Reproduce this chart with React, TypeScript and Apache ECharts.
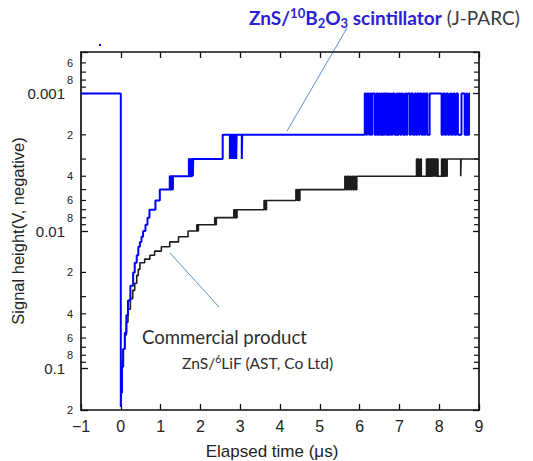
import React, { useEffect, useRef } from 'react';
import * as echarts from 'echarts';

// ---------- data ----------
const xMin = -1;
const xMax = 9;
const yMin = 0.0005;
const yMax = 0.2;

const yMajorTicks = [0.001, 0.01, 0.1];
const yMinorTickValues = [
  0.0006, 0.0007, 0.0008, 0.0009,
  0.002, 0.003, 0.004, 0.005, 0.006, 0.007, 0.008, 0.009,
  0.02, 0.03, 0.04, 0.05, 0.06, 0.07, 0.08, 0.09,
];
const yMinorLabelValues = [0.0006, 0.0008, 0.002, 0.004, 0.006, 0.008, 0.02, 0.04, 0.06, 0.08, 0.2];
const yMinorLabelTexts = ['6', '8', '2', '4', '6', '8', '2', '4', '6', '8', '2'];

// ZnS/10B2O3 (J-PARC) : [time µs, signal V] held until next point
const blueSignal: [number, number][] = [
  [-1, 0.001], [0, 0.19], [0.01, 0.15], [0.03, 0.097], [0.06, 0.072], [0.10, 0.055],
  [0.14, 0.041], [0.18, 0.032], [0.24, 0.025], [0.31, 0.020], [0.35, 0.017], [0.40, 0.015],
  [0.44, 0.013], [0.48, 0.012], [0.52, 0.011], [0.56, 0.010], [0.62, 0.009], [0.67, 0.008],
  [0.72, 0.007], [0.87, 0.006], [0.98, 0.005],
  [1.23, 0.004], [1.25, 0.005], [1.27, 0.004], [1.29, 0.005], [1.31, 0.004],
  [1.71, 0.003], [1.73, 0.004], [1.75, 0.003], [1.77, 0.004], [1.79, 0.003], [1.81, 0.004], [1.82, 0.003],
  [2.56, 0.002], [2.74, 0.003], [2.75, 0.002], [2.78, 0.003], [2.79, 0.002], [2.82, 0.003], [2.83, 0.002],
  [2.86, 0.003], [2.87, 0.002], [2.90, 0.003], [2.91, 0.002], [3.04, 0.003], [3.05, 0.002],
  [6.13, 0.001], [6.16, 0.002], [6.19, 0.001], [6.24, 0.002], [6.27, 0.001], [6.30, 0.002], [6.32, 0.001],
  [6.38, 0.002], [6.42, 0.001], [6.45, 0.002], [6.48, 0.001], [6.51, 0.002], [6.55, 0.001], [6.57, 0.002],
  [6.60, 0.001], [6.63, 0.002], [6.65, 0.001], [6.68, 0.002], [6.70, 0.001], [6.72, 0.002], [6.76, 0.001],
  [6.79, 0.002], [6.83, 0.001], [6.88, 0.002], [6.93, 0.001], [6.95, 0.002], [6.98, 0.001], [7.02, 0.002],
  [7.05, 0.001], [7.09, 0.002], [7.14, 0.001], [7.17, 0.002], [7.20, 0.001], [7.26, 0.002], [7.29, 0.001],
  [7.34, 0.002], [7.39, 0.001], [7.42, 0.002], [7.45, 0.001], [7.49, 0.002], [7.51, 0.001], [7.56, 0.002],
  [7.60, 0.001], [7.63, 0.002], [7.66, 0.001], [7.70, 0.002], [7.76, 0.001],
  [8.06, 0.002], [8.10, 0.001], [8.14, 0.002], [8.18, 0.001], [8.22, 0.002], [8.27, 0.001], [8.31, 0.002],
  [8.35, 0.001], [8.39, 0.002], [8.43, 0.001], [8.47, 0.002], [8.56, 0.001], [8.64, 0.002], [8.68, 0.001],
  [8.70, 0.002], [8.75, 0.001], [8.77, 0.001],
];

// Commercial ZnS/6LiF (AST)
const blackSignal: [number, number][] = [
  [0.01, 0.11], [0.03, 0.088], [0.06, 0.072], [0.10, 0.057], [0.14, 0.046], [0.18, 0.037],
  [0.24, 0.031], [0.30, 0.027], [0.35, 0.024], [0.40, 0.021], [0.44, 0.019], [0.48, 0.017],
  [0.60, 0.016], [0.73, 0.015], [0.85, 0.014], [1.02, 0.013], [1.23, 0.012], [1.45, 0.011],
  [1.69, 0.010], [1.91, 0.009], [1.93, 0.010], [1.95, 0.009],
  [2.36, 0.008], [2.38, 0.009], [2.40, 0.008],
  [2.84, 0.007], [2.86, 0.008], [2.88, 0.007], [2.90, 0.008], [2.92, 0.007],
  [3.60, 0.006], [3.63, 0.007], [3.66, 0.006],
  [4.40, 0.005], [4.43, 0.006], [4.46, 0.005], [4.48, 0.006], [4.50, 0.005],
  [5.63, 0.004], [5.66, 0.005], [5.69, 0.004], [5.72, 0.005], [5.75, 0.004], [5.78, 0.005],
  [5.81, 0.004], [5.84, 0.005], [5.87, 0.004], [5.90, 0.005], [5.93, 0.004],
  [7.43, 0.003], [7.45, 0.004], [7.47, 0.003], [7.49, 0.004], [7.53, 0.003], [7.55, 0.004],
  [7.68, 0.003], [7.70, 0.004], [7.72, 0.003], [7.74, 0.004], [7.76, 0.003], [7.78, 0.004],
  [7.80, 0.003], [7.82, 0.004], [7.84, 0.003], [7.88, 0.004], [7.90, 0.003], [7.93, 0.004],
  [7.95, 0.003], [7.97, 0.004], [8.06, 0.003], [8.08, 0.004], [8.10, 0.003], [8.12, 0.004],
  [8.14, 0.003], [8.17, 0.004], [8.20, 0.003], [8.54, 0.004], [8.55, 0.003], [9.0, 0.003],
];

// ---------- styles ----------
const AXIS = '#111';
const TICKFONT = 'Liberation Sans';
const NOTEFONT = 'Lato';

const isPow10 = (v: number) => {
  const l = Math.log10(v);
  return Math.abs(l - Math.round(l)) < 1e-6;
};

const commonAxisLine = { show: true, onZero: false, lineStyle: { color: AXIS, width: 1.7 } };

const option: any = {
  animation: false,
  backgroundColor: '#fff',
  grid: { left: 81, right: 54, top: 52, bottom: 51, containLabel: false, outerBoundsMode: 'none' },
  xAxis: [
    {
      type: 'value', min: xMin, max: xMax, interval: 1, position: 'bottom',
      axisLine: commonAxisLine,
      axisTick: { inside: true, length: 6, lineStyle: { color: AXIS, width: 1.3 } },
      axisLabel: {
        fontSize: 16, color: '#222', margin: 8, fontFamily: TICKFONT,
        formatter: (v: number) => (v < 0 ? '\u2212' + Math.abs(v) : String(v)),
      },
      splitLine: { show: false },
      name: 'Elapsed time (\u03bcs)', nameLocation: 'middle', nameGap: 33, nameMoveOverlap: false,
      nameTextStyle: { fontSize: 17, color: '#222', fontFamily: TICKFONT, padding: [0, 16, 0, 0] },
    },
    {
      type: 'value', min: xMin, max: xMax, interval: 1, position: 'top',
      axisLine: commonAxisLine,
      axisTick: { inside: true, length: 6, lineStyle: { color: AXIS, width: 1.3 } },
      axisLabel: { show: false }, splitLine: { show: false },
    },
  ],
  yAxis: [
    {
      type: 'log', logBase: 10, min: yMin, max: yMax, inverse: true, position: 'left',
      axisLine: commonAxisLine,
      axisTick: { inside: true, length: 7, lineStyle: { color: AXIS, width: 1.3 } },
      axisLabel: {
        fontSize: 15, color: '#222', margin: 16, fontFamily: TICKFONT,
        formatter: (v: number) => {
          if (!isPow10(v)) return '';
          const m = yMajorTicks.find((t) => Math.abs(t - v) / t < 1e-6);
          return m === undefined ? '' : String(m);
        },
      },
      splitLine: { show: false },
      name: 'Signal height(V, negative)', nameLocation: 'middle', nameGap: 55, nameRotate: 90,
      nameMoveOverlap: false,
      nameTextStyle: { fontSize: 16.5, color: '#222', fontFamily: TICKFONT },
    },
    {
      type: 'log', logBase: 10, min: yMin, max: yMax, inverse: true, position: 'right',
      axisLine: commonAxisLine,
      axisTick: { inside: true, length: 6, lineStyle: { color: AXIS, width: 1.3 } },
      axisLabel: { show: false }, splitLine: { show: false },
    },
  ],
  series: [
    {
      name: 'ZnS/6LiF (AST, Co Ltd)', type: 'line', step: 'end', data: blackSignal,
      showSymbol: false, symbol: 'none', clip: true, z: 2,
      lineStyle: { color: '#1c1c1c', width: 1.6 },
    },
    {
      name: 'ZnS/10B2O3 scintillator', type: 'line', step: 'end', data: blueSignal,
      showSymbol: false, symbol: 'none', clip: true, z: 3,
      lineStyle: { color: '#0000ff', width: 2 },
    },
  ],
};

export default function App() {
  const ref = useRef<HTMLDivElement>(null);
  useEffect(() => {
    if (!ref.current) return;
    const chart = echarts.init(ref.current, null, { renderer: 'svg' });
    chart.setOption(option);

    const yPix = (v: number) => chart.convertToPixel({ yAxisIndex: 0 }, v) as number;
    const xL = chart.convertToPixel({ xAxisIndex: 0 }, xMin) as number;
    const xR = chart.convertToPixel({ xAxisIndex: 0 }, xMax) as number;

    const els: any[] = [];
    yMinorTickValues.forEach((v) => {
      const y = yPix(v);
      els.push({ type: 'line', silent: true, shape: { x1: xL, y1: y, x2: xL + 5, y2: y }, style: { stroke: AXIS, lineWidth: 1.2 } });
      els.push({ type: 'line', silent: true, shape: { x1: xR, y1: y, x2: xR - 5, y2: y }, style: { stroke: AXIS, lineWidth: 1.2 } });
    });
    yMinorLabelValues.forEach((v, i) => {
      const y = yPix(v);
      els.push({
        type: 'text', silent: true, x: xL - 8, y,
        style: { text: yMinorLabelTexts[i], fontSize: 11, fontFamily: TICKFONT, fill: '#222', align: 'right', verticalAlign: 'middle' },
      });
    });

    // callout lines
    els.push({ type: 'line', silent: true, shape: { x1: 347, y1: 28, x2: 287, y2: 131 }, style: { stroke: '#5b8fd0', lineWidth: 1 } });
    els.push({ type: 'line', silent: true, shape: { x1: 170, y1: 253, x2: 219, y2: 307 }, style: { stroke: '#5b8fd0', lineWidth: 1 } });

    // title annotation
    els.push({
      type: 'text', silent: true, x: 249, y: 6,
      style: {
        text: '{b|ZnS/}{sup|10}{b|B}{sub|2}{b|O}{sub|3}{b| scintillator}{n| (J-PARC)}',
        align: 'left', verticalAlign: 'top',
        rich: {
          b: { fontFamily: NOTEFONT, fontWeight: 'bold', fontSize: 19, fill: '#2c1ed6', lineHeight: 23 },
          sup: { fontFamily: NOTEFONT, fontWeight: 'bold', fontSize: 13, fill: '#2c1ed6', lineHeight: 10, verticalAlign: 'top' },
          sub: { fontFamily: NOTEFONT, fontWeight: 'bold', fontSize: 13, fill: '#2c1ed6', lineHeight: 10, verticalAlign: 'bottom' },
          n: { fontFamily: NOTEFONT, fontSize: 19, fill: '#3a3a3a', lineHeight: 23 },
        },
      },
    });

    els.push({
      type: 'text', silent: true, x: 142, y: 337,
      style: { text: 'Commercial product', fontFamily: NOTEFONT, fontSize: 18.6, fill: '#2e2e2e', align: 'left', verticalAlign: 'middle' },
    });
    els.push({
      type: 'text', silent: true, x: 182, y: 353,
      style: {
        text: '{n|ZnS/}{sup|6}{n|LiF (AST, Co Ltd)}',
        align: 'left', verticalAlign: 'top',
        rich: {
          n: { fontFamily: NOTEFONT, fontSize: 15.6, fill: '#2e2e2e', lineHeight: 19 },
          sup: { fontFamily: NOTEFONT, fontSize: 10.5, fill: '#2e2e2e', lineHeight: 9, verticalAlign: 'top' },
        },
      },
    });

    // stray dot present in the original figure
    els.push({ type: 'rect', silent: true, shape: { x: 99, y: 44, width: 2, height: 2 }, style: { fill: '#0000ff' } });

    chart.setOption({ graphic: { elements: els } });
    return () => chart.dispose();
  }, []);
  return <div ref={ref} style={{ position: 'absolute', left: 0, top: 0, width: 533, height: 461 }} />;
}
